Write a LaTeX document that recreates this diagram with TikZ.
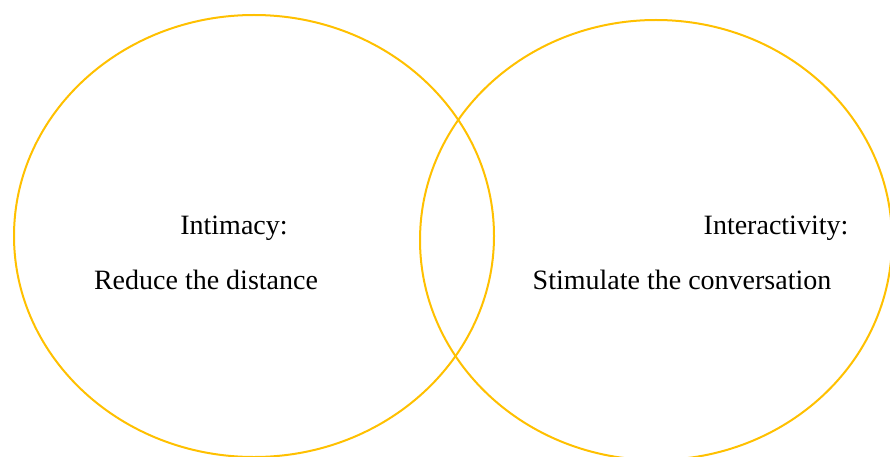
\documentclass[tikz,border=0pt]{standalone}
\usepackage{fontspec}
\setmainfont{Liberation Serif}
\definecolor{gold}{HTML}{FFC000}
\begin{document}
\begin{tikzpicture}[x=1pt,y=-1pt,
  ring/.style={draw=gold,line width=2pt},
  lbl/.style={font=\fontsize{28}{32}\selectfont,anchor=base,inner sep=0pt}]
\useasboundingbox (0,0) rectangle (890,457);
\begin{scope}
\clip (0,0) rectangle (890,457);
\draw[ring] (254,236) ellipse [x radius=240,y radius=221];
\draw[ring] (656,240) ellipse [x radius=236,y radius=220];
\end{scope}
\node[lbl] (intimacy) at (234,234) {Intimacy:};
\node[lbl] (reduce) at (206,289) {Reduce the distance};
\node[lbl] (interactivity) at (776,234) {Interactivity:};
\node[lbl] (stimulate) at (682,289) {Stimulate the conversation};
\end{tikzpicture}
\end{document}
